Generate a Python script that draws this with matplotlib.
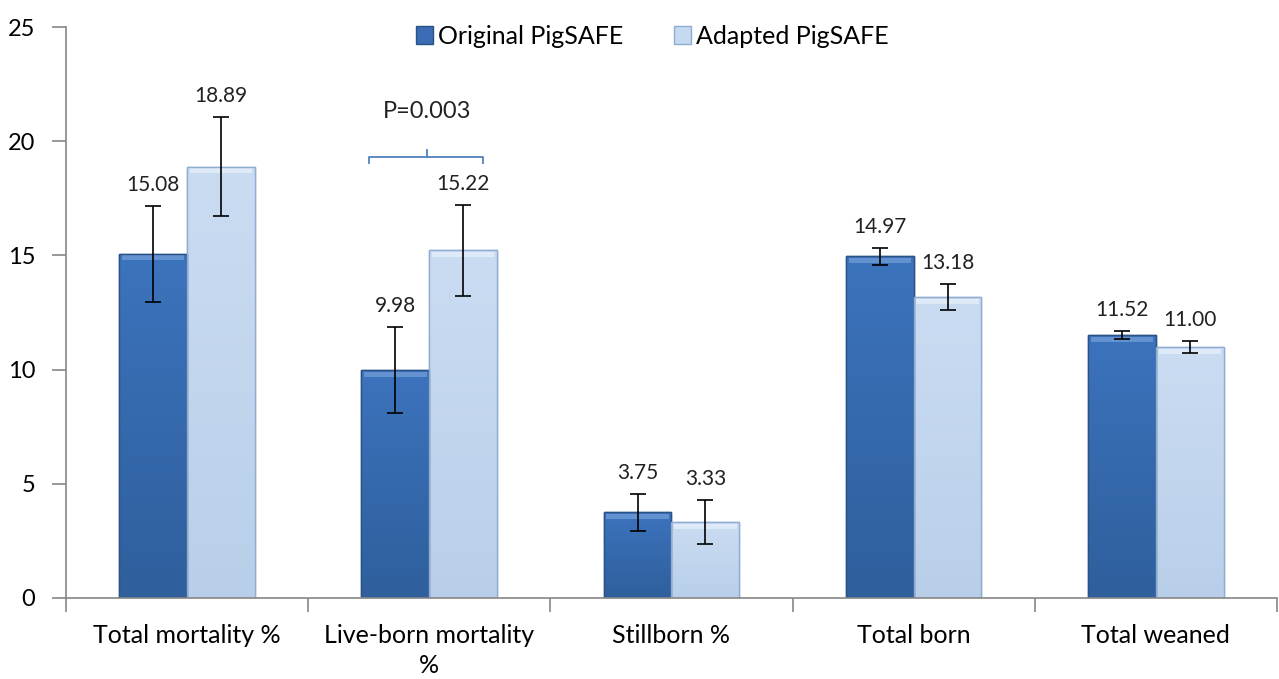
import matplotlib
matplotlib.use("Agg")
import matplotlib.pyplot as plt
import numpy as np
from matplotlib.colors import LinearSegmentedColormap
from matplotlib.patches import Patch

plt.rcParams['font.family'] = ['Lato', 'DejaVu Sans']

# Data
categories = ["Total mortality %", "Live-born mortality\n%", "Stillborn %",
              "Total born", "Total weaned"]
original = [15.08, 9.98, 3.75, 14.97, 11.52]
adapted = [18.89, 15.22, 3.33, 13.18, 11.00]
original_err = [2.1, 1.9, 0.8, 0.37, 0.17]
adapted_err = [2.15, 2.0, 0.95, 0.55, 0.26]
series_names = ["Original PigSAFE", "Adapted PigSAFE"]

fig = plt.figure(figsize=(12.79, 6.79), dpi=100)
ax = fig.add_axes([0.0516, 0.1193, 0.9468, 0.8409])

x = np.arange(len(categories))
w = 0.28

cmap_orig = LinearSegmentedColormap.from_list("o", ["#2f5f9c", "#3c73bd"])
cmap_adap = LinearSegmentedColormap.from_list("a", ["#b9cfe9", "#cadcf2"])

def draw_bars(xs, vals, face, edge, hilite, cmap):
    bars = ax.bar(xs, vals, w, color=face, edgecolor=edge, linewidth=1.0, zorder=2)
    grad = np.linspace(0, 1, 100).reshape(-1, 1)
    for b in bars:
        x0, h = b.get_x(), b.get_height()
        im = ax.imshow(grad, extent=[x0, x0 + w, 0, h], origin='lower',
                       aspect='auto', cmap=cmap, zorder=2.1)
        im.set_clip_path(b)
    # bevel highlight on top of each bar
    ax.bar(xs, [0.22] * len(vals), w * 0.92, bottom=[v - 0.3 for v in vals],
           color=hilite, alpha=0.8, linewidth=0, zorder=2.2)
    ax.bar(xs, vals, w, color='none', edgecolor=edge, linewidth=1.0, zorder=2.3)
    return bars

draw_bars(x - w / 2, original, "#3a6db5", "#2b5287", "#6f9bd6", cmap_orig)
draw_bars(x + w / 2, adapted, "#c6d9f1", "#8fadd0", "#e4eefa", cmap_adap)

ax.errorbar(x - w / 2, original, yerr=original_err, fmt='none', ecolor='black',
            elinewidth=1.2, capsize=6, capthick=1.2, zorder=4)
ax.errorbar(x + w / 2, adapted, yerr=adapted_err, fmt='none', ecolor='black',
            elinewidth=1.2, capsize=6, capthick=1.2, zorder=4)

for xi, v, e in zip(x - w / 2, original, original_err):
    ax.annotate(f"{v:.2f}", (xi, v + e), xytext=(0, 8), textcoords='offset points',
                ha='center', va='bottom', fontsize=15, color='#222222')
for xi, v, e in zip(x + w / 2, adapted, adapted_err):
    ax.annotate(f"{v:.2f}", (xi, v + e), xytext=(0, 8), textcoords='offset points',
                ha='center', va='bottom', fontsize=15, color='#222222')

# significance bracket over live-born mortality
bx0, bx1, by = 1 - 0.25, 1 + 0.22, 19.3
ax.plot([bx0, bx0, bx1, bx1], [by - 0.25, by, by, by - 0.25], color='#4f81bd', lw=1.3, zorder=5)
ax.plot([1 - 0.01, 1 - 0.01], [by, by + 0.3], color='#4f81bd', lw=1.3, zorder=5)
ax.text(1 - 0.01, 21.3, "P=0.003", ha='center', va='center', fontsize=17, color='#222222')

ax.set_xlim(-0.5, len(categories) - 0.5)
ax.set_ylim(0, 25)
ax.set_yticks(range(0, 26, 5))
ax.tick_params(axis='y', labelsize=17, length=10, color='#868686', width=1.2, pad=12)

ax.set_xticks(np.arange(len(categories) + 1) - 0.5)
ax.set_xticklabels([])
ax.set_xticks(x, minor=True)
ax.set_xticklabels(categories, minor=True, fontsize=18, linespacing=1.35)
ax.tick_params(axis='x', which='major', length=10, color='#868686', width=1.2)
ax.tick_params(axis='x', which='minor', length=0, pad=19)

for s in ['top', 'right']:
    ax.spines[s].set_visible(False)
for s in ['left', 'bottom']:
    ax.spines[s].set_color('#868686')
    ax.spines[s].set_linewidth(1.2)

handles = [Patch(facecolor="#3a6db5", edgecolor="#2b5287"),
           Patch(facecolor="#c6d9f1", edgecolor="#8fadd0")]
fig.legend(handles, series_names, loc='upper center', bbox_to_anchor=(0.51, 0.997),
           ncol=2, frameon=False, fontsize=18, handlelength=0.7, handleheight=0.7,
           handletextpad=0.2, columnspacing=2.0)

fig.savefig("out.png", dpi=100)
